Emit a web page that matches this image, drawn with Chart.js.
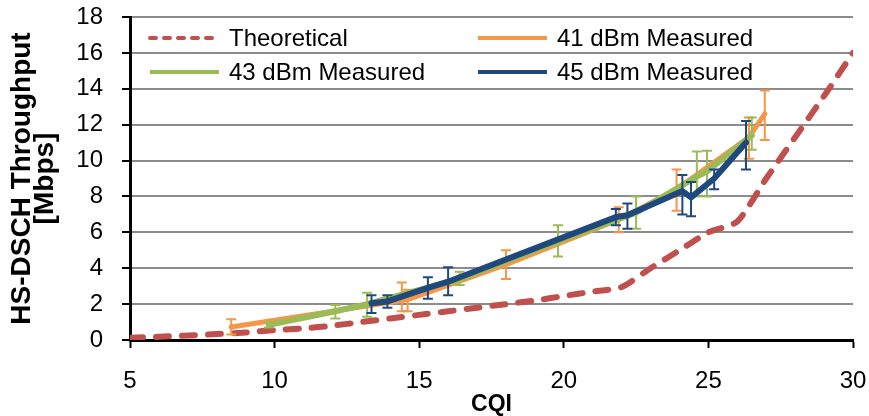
<!DOCTYPE html>
<html>
<head>
<meta charset="utf-8">
<script src="https://cdn.jsdelivr.net/npm/chart.js@4/dist/chart.umd.min.js"></script>
<style>
  body { margin: 0; background: #fff; }
  canvas { display: block; }
</style>
</head>
<body>
<canvas id="cqi-chart" width="869" height="416"></canvas>
<script>
// theoretical curve
const cqiTheory = [5, 6, 7, 8, 9, 10, 11, 12, 13, 14, 15, 16, 17, 18, 19, 20, 21, 22, 23, 24, 25, 26, 27, 28, 29, 30];
const thrTheory = [0.12, 0.18, 0.25, 0.33, 0.42, 0.55, 0.65, 0.8, 1.0, 1.2, 1.4, 1.6, 1.8, 2.0, 2.2, 2.45, 2.7, 2.95, 4.0, 5.0, 6.0, 6.6, 9.0, 11.3, 13.6, 16.0];

// 41 dBm
const cqi41 = [8.5, 14.4, 14.6, 18.0, 21.9, 23.9, 26.4, 26.95];
const thr41 = [0.72, 2.2, 2.25, 4.2, 6.7, 8.4, 11.3, 12.6];
const lo41 = [0.3, 1.6, 1.6, 3.4, 6.0, 7.2, 10.1, 11.15];
const hi41 = [1.15, 3.2, 2.8, 5.0, 7.4, 9.5, 12.4, 13.9];

// 43 dBm
const cqi43 = [9.8, 12.1, 13.2, 16.4, 19.8, 22.5, 24.6, 24.95, 26.5];
const thr43 = [0.84, 1.6, 2.0, 3.4, 5.5, 7.1, 9.1, 9.4, 11.4];
const lo43 = [0.7, 1.2, 1.3, 3.07, 4.65, 6.2, 8.0, 8.0, 10.6];
const hi43 = [1.0, 1.95, 2.64, 3.8, 6.4, 8.0, 10.5, 10.55, 12.4];

// 45 dBm
const cqi45 = [13.35, 13.9, 15.3, 16.0, 21.8, 22.2, 24.1, 24.4, 25.2, 26.3];
const thr45 = [2.05, 2.15, 2.9, 3.25, 6.85, 6.95, 8.3, 7.95, 9.0, 11.0];
const lo45 = [1.5, 1.8, 2.3, 2.5, 6.4, 6.2, 7.0, 6.9, 8.4, 9.5];
const hi45 = [2.5, 2.5, 3.5, 4.05, 7.3, 7.6, 9.2, 8.8, 9.5, 12.2];

const xTicks = [5, 10, 15, 20, 25, 30];
const yTicks = [0, 2, 4, 6, 8, 10, 12, 14, 16, 18];

const FONT = "'Liberation Sans', Arial, sans-serif";

const pts = (xs, ys) => xs.map((x, i) => ({ x, y: ys[i] }));

// vertical error bars, drawn right after their own line
const errorBars = {
  id: "errorBars",
  afterDatasetDraw(chart, args) {
    const ds = chart.data.datasets[args.index];
    if (!ds.errLow) return;
    const { ctx, scales } = chart;
    ctx.save();
    ctx.strokeStyle = ds.borderColor;
    ctx.lineWidth = 2;
    ds.data.forEach((p, i) => {
      const px = scales.x.getPixelForValue(p.x);
      const top = scales.y.getPixelForValue(ds.errHigh[i]);
      const bot = scales.y.getPixelForValue(ds.errLow[i]);
      ctx.beginPath();
      ctx.moveTo(px, top);
      ctx.lineTo(px, bot);
      ctx.moveTo(px - 5, top);
      ctx.lineTo(px + 5, top);
      ctx.moveTo(px - 5, bot);
      ctx.lineTo(px + 5, bot);
      ctx.stroke();
    });
    ctx.restore();
  },
};

// 2x2 legend inside the plot area
const gridLegend = {
  id: "gridLegend",
  afterDraw(chart) {
    const { ctx, chartArea } = chart;
    const cols = [chartArea.left + 20, chartArea.left + 348];
    const rows = [chartArea.top + 21, chartArea.top + 55];
    ctx.save();
    ctx.font = "24px " + FONT;
    ctx.textBaseline = "middle";
    ctx.fillStyle = "#000";
    chart.data.datasets.forEach((ds, i) => {
      const x = cols[i % 2];
      const y = rows[Math.floor(i / 2)];
      ctx.strokeStyle = ds.borderColor;
      ctx.lineWidth = 4;
      ctx.lineCap = ds.borderDash.length ? "round" : "butt";
      ctx.setLineDash(ds.borderDash.length ? [6, 8] : []);
      ctx.beginPath();
      ctx.moveTo(x, y);
      ctx.lineTo(x + 69, y);
      ctx.stroke();
      ctx.setLineDash([]);
      ctx.fillText(ds.label, x + 79, y + 1);
    });
    ctx.restore();
  },
};

const ctx = document.getElementById("cqi-chart");

new Chart(ctx, {
  type: "scatter",
  data: {
    datasets: [
      {
        label: "Theoretical",
        data: pts(cqiTheory, thrTheory),
        borderColor: "#C0504D",
        borderWidth: 6,
        borderDash: [13, 13],
        borderCapStyle: "round",
        tension: 0.2,
        order: 3,
      },
      {
        label: "41 dBm Measured",
        data: pts(cqi41, thr41),
        errLow: lo41,
        errHigh: hi41,
        borderColor: "#F79646",
        borderWidth: 5,
        borderDash: [],
        order: 2,
      },
      {
        label: "43 dBm Measured",
        data: pts(cqi43, thr43),
        errLow: lo43,
        errHigh: hi43,
        borderColor: "#9BBB59",
        borderWidth: 6,
        borderDash: [],
        order: 1,
      },
      {
        label: "45 dBm Measured",
        data: pts(cqi45, thr45),
        errLow: lo45,
        errHigh: hi45,
        borderColor: "#1F497D",
        borderWidth: 6,
        borderDash: [],
        order: 0,
      },
    ].map((d) => ({
      showLine: true,
      pointRadius: 0,
      pointHoverRadius: 0,
      borderCapStyle: "round",
      borderJoinStyle: "round",
      tension: 0,
      ...d,
    })),
  },
  options: {
    responsive: false,
    animation: false,
    devicePixelRatio: 1,
    layout: { padding: { top: 17, right: 16, left: 0, bottom: 0 } },
    plugins: {
      legend: { display: false },
      tooltip: { enabled: false },
    },
    scales: {
      x: {
        type: "linear",
        min: xTicks[0],
        max: xTicks[xTicks.length - 1],
        afterBuildTicks: (s) => { s.ticks = xTicks.map((v) => ({ value: v })); },
        afterFit: (s) => { s.height = 76; s.paddingLeft = 0; s.paddingRight = 0; },
        ticks: { font: { family: FONT, size: 24 }, color: "#000", padding: 19 },
        grid: { drawOnChartArea: false, drawTicks: true, tickLength: 8, tickColor: "#000", tickWidth: 2 },
        border: { color: "#000", width: 3 },
        title: {
          display: true,
          text: "CQI",
          color: "#000",
          font: { family: FONT, size: 23, weight: "bold", lineHeight: 1 },
          padding: { top: 0, bottom: 0 },
        },
      },
      y: {
        min: yTicks[0],
        max: yTicks[yTicks.length - 1],
        afterBuildTicks: (s) => { s.ticks = yTicks.map((v) => ({ value: v })); },
        afterFit: (s) => { s.width = 130; s.paddingTop = 0; s.paddingBottom = 0; },
        ticks: { font: { family: FONT, size: 24 }, color: "#000", padding: 19 },
        grid: { color: "#8c8c8c", lineWidth: 2, tickLength: 8, tickColor: "#000", tickWidth: 2 },
        border: { color: "#000", width: 3 },
        title: {
          display: true,
          text: ["HS-DSCH Throughput", "[Mbps]"],
          color: "#000",
          font: { family: FONT, size: 28, weight: "bold", lineHeight: "23px" },
          padding: { top: 11, bottom: 0 },
        },
      },
    },
  },
  plugins: [errorBars, gridLegend],
});
</script>
</body>
</html>
